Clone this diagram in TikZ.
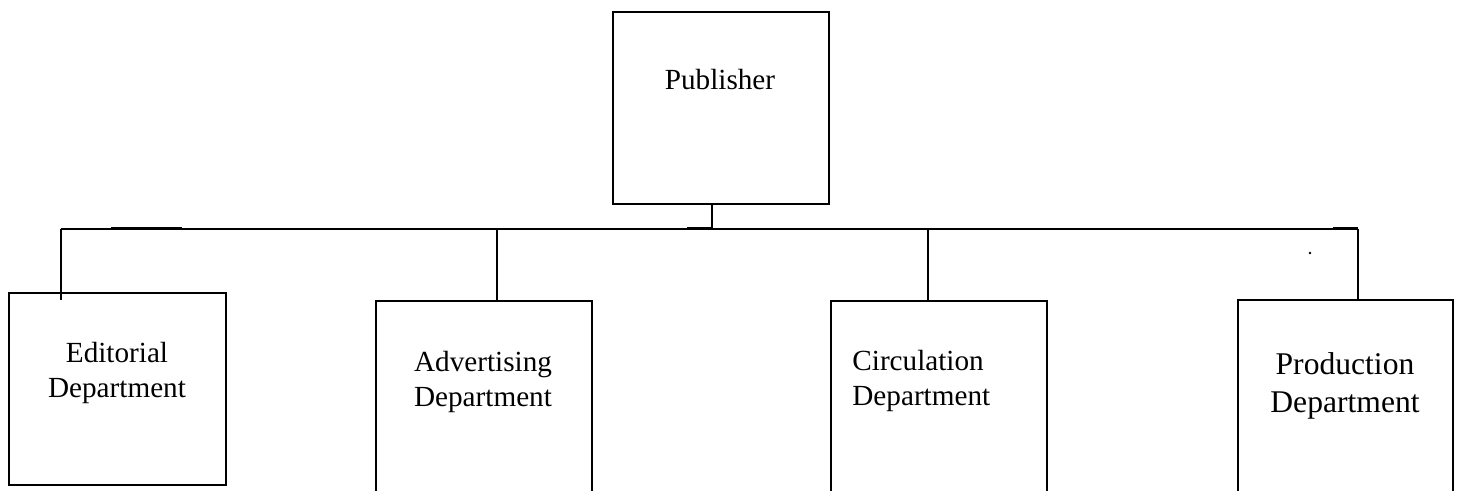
\documentclass[tikz,border=0pt]{standalone}
\usepackage{fontspec}
\setmainfont{Liberation Serif}
\begin{document}
\begin{tikzpicture}[x=0.5pt,y=-0.5pt,
  box/.style={draw=black,line width=1pt,minimum width=#1,minimum height=96pt,inner sep=0pt,fill=none},
  box/.default=108pt,
  lbl/.style={inner sep=0pt,align=center,font=\fontsize{14.6pt}{17.5pt}\selectfont},
  conn/.style={draw=black,line width=1pt}]
\useasboundingbox (0,0) rectangle (1457,491);
\clip (0,0) rectangle (1457,491);
% boxes
\node[box=108pt] (pub) at (721,108) {};
\node[box=108.5pt] (ed) at (117.5,389) {};
\node[box=108pt] (adv) at (484,397) {};
\node[box=108pt] (cir) at (939,397) {};
\node[box=107.5pt] (pro) at (1345.5,396) {};
% labels
\node[lbl] (tpub) at (720,80) {Publisher};
\node[lbl] (ted) at (117,372.5) {Editorial\\Department};
\node[lbl] (tadv) at (483,381.5) {Advertising\\Department};
\node[lbl,align=left,anchor=west] (tcir) at (852,380.5) {Circulation\\Department};
\node[lbl,font=\fontsize{15.8pt}{19pt}\selectfont] (tpro) at (1345,386) {Production\\Department};
% bus coordinates
\coordinate (j0) at (712,229);
\coordinate (b1) at (61,229);
\coordinate (b2) at (497,229);
\coordinate (b3) at (928,229);
\coordinate (b4) at (1358,229);
\coordinate (e1) at (61,300);
% connectors
\draw[conn] (pub.south -| j0) -- (j0);
\draw[conn] (b1) -- (b4);
\draw[conn] (b1) -- (e1);
\draw[conn] (b2) -- (b2 |- adv.north);
\draw[conn] (b3) -- (b3 |- cir.north);
\draw[conn] (b4) -- (b4 |- pro.north);
% slightly heavier segments on the bus
\coordinate (h1) at (111,229);
\coordinate (h2) at (182,229);
\coordinate (h3) at (687,229);
\coordinate (h4) at (1333,229);
\draw[line width=1.5pt] (h1) -- (h2);
\draw[line width=1.5pt] (h3) -- (j0);
\draw[line width=1.5pt] (h4) -- (b4);
% small stray dot
\fill (1310,253) circle[radius=1.3];
\end{tikzpicture}
\end{document}
